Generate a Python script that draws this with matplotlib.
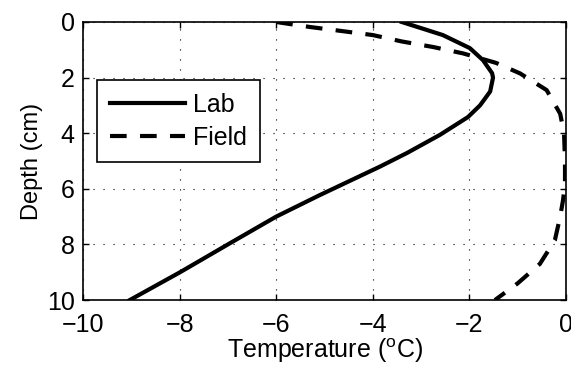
import matplotlib
matplotlib.use("Agg")
import matplotlib.pyplot as plt

plt.rcParams["font.family"] = ["Liberation Sans", "DejaVu Sans"]
plt.rcParams["mathtext.fontset"] = "custom"
plt.rcParams["mathtext.rm"] = "Liberation Sans"

# --------------------------------------------------
# Temperature profiles (depth in cm, temperature in C)
# --------------------------------------------------

lab_depth = [0.0, 0.47, 0.94, 1.37, 1.84, 2.0, 2.5, 3.0, 3.42, 4.06, 4.71, 5.2, 6.22,
             7.0, 7.96, 9.0, 10.0]
lab_temp = [-3.4, -2.55, -1.99, -1.72, -1.53, -1.51, -1.57, -1.78, -2.03, -2.61, -3.29,
            -3.85, -5.09, -6.0, -6.96, -7.99, -9.03]

field_depth = [0.0, 0.18, 0.33, 0.47, 0.7, 0.9, 1.13, 1.47, 1.85, 2.45, 3.3, 4.0, 5.0, 5.8,
               6.4, 7.0, 7.85, 8.7, 9.4, 10.0]
field_temp = [-6.0, -5.3, -4.62, -4.0, -3.4, -2.75, -2.13, -1.45, -0.95, -0.4, -0.12, -0.04,
              -0.02, -0.02, -0.06, -0.12, -0.23, -0.54, -1.0, -1.47]

x_ticks = [-10, -8, -6, -4, -2, 0]
y_ticks = [0, 2, 4, 6, 8, 10]

# --------------------------------------------------
# Plot
# --------------------------------------------------

fig = plt.figure(figsize=(5.71, 3.66), dpi=100)
ax = fig.add_axes([0.1454, 0.1803, 0.8458, 0.7596])

ax.plot(lab_temp, lab_depth, color="black", linewidth=3, label="Lab")
ax.plot(field_temp, field_depth, color="black", linewidth=3,
        dashes=(4, 3.2), label="Field")

ax.set_xlim(-10, 0)
ax.set_ylim(10, 0)
ax.set_xticks(x_ticks)
ax.set_yticks(y_ticks)
ax.set_xticklabels([f"{t}".replace("-", "\u2212") for t in x_ticks])

ax.grid(True, color="black", linestyle=(0, (1, 8)), linewidth=0.8)

ax.tick_params(direction="in", length=4, width=1, labelsize=18,
               top=True, right=True)
ax.tick_params(axis="x", pad=9)
ax.tick_params(axis="y", pad=6)
for spine in ax.spines.values():
    spine.set_linewidth(1.2)

ax.set_xlabel(r"Temperature ($^\mathregular{o}$C)", fontsize=18, labelpad=0)
ax.set_ylabel("Depth (cm)", fontsize=17, labelpad=3)

leg = ax.legend(loc="upper left", bbox_to_anchor=(0.029, 0.79), fontsize=18,
                fancybox=False, framealpha=1, edgecolor="black",
                handlelength=3.0, handletextpad=0.35, borderpad=0.5,
                labelspacing=0.35, borderaxespad=0)
leg.get_frame().set_linewidth(1.2)

plt.savefig("out.png", dpi=100)
plt.close()
